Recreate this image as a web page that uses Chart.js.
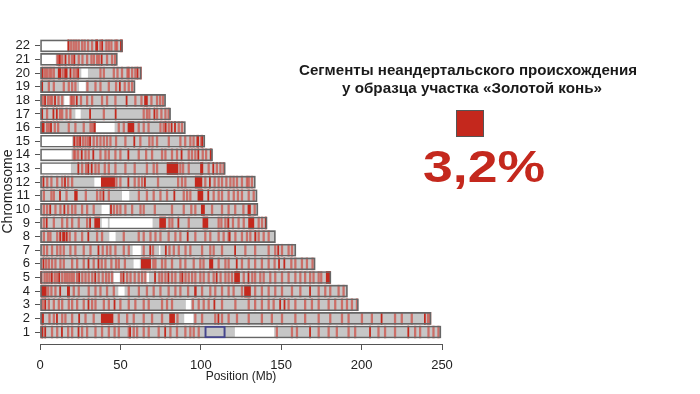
<!DOCTYPE html>
<html lang="ru">
<head>
    <meta charset="UTF-8">
    <title>Неандертальские сегменты</title>
    <script src="https://cdn.jsdelivr.net/npm/chart.js"></script>
    <style>
        body { margin: 0; background: #fff; }
        #wrap { width: 700px; height: 394px; }
    </style>
</head>
<body>
<div id="wrap"><canvas id="chromoChart" width="700" height="394"></canvas></div>

<script>
    // хромосомы и их длина (Mb)
    const chromosomes = [1, 2, 3, 4, 5, 6, 7, 8, 9, 10, 11, 12, 13, 14, 15, 16, 17, 18, 19, 20, 21, 22];
    const chromLengths = [249.3, 243.2, 198.0, 191.2, 180.9, 171.1, 159.1, 146.4, 141.2, 135.5, 135.0, 133.9,
                          115.2, 107.3, 102.5, 90.4, 81.2, 78.1, 59.1, 63.0, 48.1, 51.3];
    const xTicks = [0, 50, 100, 150, 200, 250];

    // белые участки (нет данных): [хромосома, начало, конец]
    const gaps = [
        [1, 121.4, 145.4], [2, 89.9, 95.1], [3, 90.9, 93.6], [4, 48.9, 52.4], [5, 46.0, 49.4], [5, 66.3, 67.6],
        [6, 58.4, 61.9], [7, 57.8, 62.5], [7, 74.2, 74.7], [8, 43.3, 46.8], [9, 38.6, 42.0], [9, 43.5, 69.8],
        [10, 38.5, 42.8], [11, 51.2, 55.3], [12, 34.0, 37.8], [13, 0, 19.0], [14, 0, 19.4], [15, 0, 19.8],
        [16, 35.0, 46.2], [17, 22.2, 25.1], [18, 15.3, 18.4], [19, 24.5, 28.2], [20, 25.9, 29.6],
        [21, 0, 9.6], [22, 0, 16.8]
    ];

    // яркие неандертальские сегменты: [хромосома, начало, конец]
    const darkSegments = [
        [1, 1.2, 1.9], [1, 2.9, 3.6], [1, 13.3, 14.0], [1, 23.6, 24.3], [1, 55.7, 56.4], [1, 77.5, 78.2], [1, 167.6, 168.3], [1, 204.9, 205.6], [1, 228.7, 229.4],
        [2, 1.5, 2.2], [2, 10.2, 10.9], [2, 24.0, 24.7], [2, 38.1, 45.4], [2, 80.6, 83.7], [2, 110.6, 111.3], [2, 212.1, 212.8], [2, 239.0, 239.7],
        [3, 2.9, 3.6], [3, 29.8, 30.5], [3, 46.0, 46.7], [3, 108.1, 108.8], [3, 149.0, 149.7], [3, 151.7, 152.4],
        [4, 0.8, 3.9], [4, 12.2, 12.9], [4, 17.0, 18.4], [4, 96.1, 97.2], [4, 127.2, 130.9], [4, 167.6, 168.3],
        [5, 0.4, 1.2], [5, 7.0, 7.7], [5, 11.6, 12.3], [5, 24.0, 24.7], [5, 34.0, 34.7], [5, 51.6, 52.3], [5, 71.2, 71.9], [5, 79.5, 80.2],
        [5, 88.2, 88.9], [5, 109.5, 110.2], [5, 121.0, 124.1], [5, 129.3, 130.0], [5, 178.0, 180.6],
        [6, 1.8, 2.5], [6, 29.8, 30.5], [6, 36.0, 36.7], [6, 63.0, 68.8], [6, 105.4, 107.5], [6, 122.0, 122.7], [6, 148.3, 149.0], [6, 151.6, 152.3],
        [7, 36.0, 36.7], [7, 68.2, 68.9], [7, 77.9, 78.6], [7, 121.0, 121.7], [7, 147.8, 148.5],
        [8, 12.2, 13.0], [8, 14.0, 15.5], [8, 16.2, 17.0], [8, 29.7, 30.4], [8, 91.5, 92.2], [8, 117.5, 118.3], [8, 133.5, 134.3],
        [9, 3.8, 4.5], [9, 30.8, 31.5], [9, 34.0, 37.1], [9, 74.4, 78.1], [9, 85.7, 86.4], [9, 101.3, 104.4], [9, 116.7, 117.5], [9, 129.7, 133.0], [9, 140.0, 140.8],
        [10, 6.0, 6.7], [10, 14.8, 15.5], [10, 43.8, 44.5], [10, 100.3, 102.3], [10, 129.3, 130.9],
        [11, 12.1, 12.8], [11, 21.5, 23.2], [11, 39.1, 39.8], [11, 83.2, 83.9], [11, 98.2, 101.3], [11, 104.3, 105.0],
        [12, 1.8, 2.5], [12, 15.2, 15.9], [12, 38.1, 46.4], [12, 54.6, 55.3], [12, 64.9, 65.6], [12, 96.5, 100.7], [12, 105.3, 106.0],
        [13, 23.5, 24.2], [13, 29.7, 30.4], [13, 31.8, 32.5], [13, 79.0, 85.8], [13, 99.8, 101.3], [13, 107.4, 108.1],
        [14, 25.6, 26.3], [14, 32.8, 33.5], [14, 54.6, 55.3], [14, 87.7, 88.4], [14, 98.1, 98.8], [14, 105.8, 106.6],
        [15, 20.9, 21.6], [15, 24.6, 25.3], [15, 30.8, 31.5], [15, 58.3, 59.0], [15, 97.5, 98.7], [15, 100.6, 101.3],
        [16, 1.2, 2.6], [16, 6.5, 7.2], [16, 33.5, 34.4], [16, 54.7, 58.4], [16, 77.8, 78.5], [16, 81.5, 82.2], [16, 83.6, 84.3],
        [17, 1.0, 1.7], [17, 8.0, 8.7], [17, 10.1, 10.8], [17, 30.8, 31.5], [17, 46.7, 47.4], [17, 70.8, 71.5],
        [18, 2.8, 3.5], [18, 9.0, 9.7], [18, 22.5, 23.2], [18, 53.5, 54.2], [18, 65.0, 66.8],
        [19, 1.0, 1.7], [19, 49.3, 50.0],
        [20, 1.2, 1.9], [20, 11.3, 12.9], [20, 15.3, 16.9], [20, 18.6, 19.3], [20, 23.4, 24.1], [20, 60.3, 61.0],
        [21, 12.0, 12.7], [21, 15.5, 16.2], [21, 21.0, 21.7], [21, 38.0, 38.7],
        [22, 17.3, 18.1], [22, 34.6, 35.9], [22, 38.4, 39.0], [22, 50.0, 51.2]
    ];

    // бледные короткие сегменты: [хромосома, начало]
    const lightSegments = [
        [1, 0.4], [1, 7.0], [1, 10.2], [1, 17.0], [1, 19.5], [1, 25.7], [1, 28.8], [1, 34.0], [1, 38.1], [1, 42.3], [1, 45.9], [1, 48.5], [1, 54.7], [1, 57.8],
        [1, 59.9], [1, 64.0], [1, 67.1], [1, 73.3], [1, 80.6], [1, 84.7], [1, 89.9], [1, 93.0], [1, 95.1], [1, 98.2], [1, 146.8], [1, 156.2], [1, 159.3],
        [1, 172.8], [1, 179.0], [1, 184.1], [1, 191.4], [1, 195.5], [1, 210.0], [1, 214.1], [1, 220.3], [1, 232.8], [1, 235.9], [1, 241.1], [1, 244.2], [1, 247.3],
        [2, 0.8], [2, 5.4], [2, 8.1], [2, 13.3], [2, 15.3], [2, 19.5], [2, 27.8], [2, 32.9], [2, 48.5], [2, 53.7], [2, 57.8], [2, 64.0], [2, 69.2], [2, 75.4],
        [2, 85.0], [2, 96.1], [2, 100.3], [2, 108.5], [2, 112.7], [2, 116.8], [2, 122.0], [2, 129.3], [2, 137.5], [2, 143.7], [2, 150.0], [2, 158.3], [2, 164.4],
        [2, 172.8], [2, 180.0], [2, 187.3], [2, 191.4], [2, 199.7], [2, 205.9], [2, 220.3], [2, 224.5], [2, 230.7], [2, 240.8], [2, 242.1],
        [3, 1.2], [3, 5.0], [3, 8.1], [3, 11.2], [3, 13.3], [3, 17.4], [3, 19.5], [3, 22.6], [3, 26.7], [3, 31.9], [3, 34.0], [3, 39.2], [3, 42.3], [3, 49.5],
        [3, 54.7], [3, 58.8], [3, 64.0], [3, 67.1], [3, 75.4], [3, 78.5], [3, 81.6], [3, 94.6], [3, 98.2], [3, 101.3], [3, 104.4], [3, 112.7], [3, 121.0],
        [3, 129.3], [3, 133.3], [3, 137.5], [3, 141.7], [3, 144.8], [3, 154.1], [3, 158.3], [3, 164.4], [3, 168.6], [3, 172.8], [3, 179.0], [3, 183.1],
        [3, 187.3], [3, 190.4], [3, 193.5], [3, 196.6],
        [4, 4.6], [4, 6.6], [4, 9.1], [4, 20.5], [4, 23.6], [4, 29.8], [4, 34.0], [4, 37.1], [4, 41.2], [4, 45.4], [4, 54.7], [4, 61.0], [4, 66.0], [4, 70.2],
        [4, 74.4], [4, 79.5], [4, 83.7], [4, 86.8], [4, 91.6], [4, 100.3], [4, 105.4], [4, 108.5], [4, 112.7], [4, 116.8], [4, 119.9], [4, 125.1], [4, 133.3],
        [4, 137.5], [4, 141.7], [4, 145.8], [4, 150.0], [4, 156.2], [4, 161.4], [4, 172.8], [4, 176.9], [4, 180.0], [4, 185.2], [4, 188.3],
        [5, 2.4], [5, 3.9], [5, 5.4], [5, 8.7], [5, 10.2], [5, 13.3], [5, 15.0], [5, 16.4], [5, 17.8], [5, 19.2], [5, 20.5], [5, 22.6], [5, 25.8], [5, 27.8],
        [5, 29.8], [5, 32.0], [5, 36.0], [5, 38.5], [5, 40.6], [5, 42.3], [5, 44.3], [5, 50.0], [5, 53.7], [5, 55.8], [5, 58.4], [5, 60.9], [5, 63.0], [5, 65.0],
        [5, 73.7], [5, 75.4], [5, 77.5], [5, 81.6], [5, 83.7], [5, 86.8], [5, 90.0], [5, 92.0], [5, 94.1], [5, 96.1], [5, 99.2], [5, 101.3], [5, 104.4],
        [5, 107.5], [5, 111.8], [5, 114.8], [5, 116.8], [5, 118.9], [5, 126.2], [5, 131.5], [5, 133.3], [5, 136.5], [5, 138.6], [5, 142.7], [5, 145.8],
        [5, 150.0], [5, 154.1], [5, 158.3], [5, 161.4], [5, 164.4], [5, 167.5], [5, 169.6], [5, 172.8], [5, 174.4],
        [6, 3.3], [6, 5.0], [6, 7.0], [6, 9.1], [6, 12.2], [6, 14.3], [6, 19.5], [6, 22.6], [6, 26.7], [6, 32.9], [6, 37.9], [6, 40.2], [6, 43.9], [6, 46.8],
        [6, 48.5], [6, 52.3], [6, 70.0], [6, 71.3], [6, 75.4], [6, 77.5], [6, 81.6], [6, 86.8], [6, 89.9], [6, 95.1], [6, 99.2], [6, 101.2], [6, 110.6],
        [6, 114.8], [6, 116.8], [6, 125.1], [6, 129.3], [6, 133.3], [6, 137.5], [6, 141.7], [6, 145.4], [6, 155.8], [6, 158.3], [6, 162.4], [6, 165.5], [6, 169.0],
        [7, 1.9], [7, 3.9], [7, 7.0], [7, 10.2], [7, 12.2], [7, 14.3], [7, 18.4], [7, 21.5], [7, 26.7], [7, 30.9], [7, 38.5], [7, 41.2], [7, 43.3], [7, 46.4],
        [7, 51.6], [7, 54.7], [7, 64.0], [7, 69.8], [7, 80.0], [7, 82.7], [7, 85.8], [7, 90.0], [7, 93.0], [7, 100.3], [7, 105.4], [7, 107.5], [7, 112.7],
        [7, 127.2], [7, 133.3], [7, 141.7], [7, 145.8], [7, 150.0], [7, 154.1], [7, 156.2],
        [8, 1.9], [8, 4.6], [8, 6.0], [8, 10.2], [8, 18.0], [8, 21.5], [8, 25.7], [8, 35.0], [8, 38.1], [8, 51.6], [8, 60.9], [8, 64.0], [8, 68.2], [8, 71.3],
        [8, 74.4], [8, 79.5], [8, 83.7], [8, 86.8], [8, 96.1], [8, 102.3], [8, 105.4], [8, 110.6], [8, 113.7], [8, 116.8], [8, 121.0], [8, 125.1], [8, 128.2],
        [8, 130.3], [8, 135.5], [8, 138.6], [8, 141.7],
        [9, 1.9], [9, 8.1], [9, 13.3], [9, 16.4], [9, 19.5], [9, 23.6], [9, 28.8], [9, 80.0], [9, 81.8], [9, 92.0], [9, 110.6], [9, 112.3], [9, 114.8],
        [9, 119.5], [9, 123.0], [9, 126.2], [9, 135.5], [9, 137.6],
        [10, 1.9], [10, 3.9], [10, 9.1], [10, 12.2], [10, 17.0], [10, 19.5], [10, 21.5], [10, 25.7], [10, 28.8], [10, 32.9], [10, 45.5], [10, 47.5], [10, 49.5],
        [10, 52.6], [10, 56.8], [10, 62.0], [10, 64.0], [10, 70.9], [10, 81.6], [10, 88.9], [10, 93.6], [10, 96.1], [10, 106.5], [10, 112.7], [10, 116.8],
        [10, 120.9], [10, 126.0], [10, 133.0],
        [11, 1.9], [11, 6.6], [11, 8.1], [11, 16.0], [11, 28.0], [11, 35.0], [11, 37.1], [11, 42.3], [11, 61.0], [11, 66.0], [11, 70.2], [11, 74.4], [11, 78.5],
        [11, 88.9], [11, 91.0], [11, 93.0], [11, 107.5], [11, 110.6], [11, 112.7], [11, 116.8], [11, 120.0], [11, 122.6], [11, 125.1], [11, 129.3], [11, 132.4],
        [12, 4.0], [12, 6.6], [12, 10.2], [12, 13.3], [12, 17.0], [12, 19.5], [12, 47.0], [12, 49.5], [12, 58.4], [12, 60.9], [12, 63.0], [12, 72.9], [12, 85.4],
        [12, 87.8], [12, 89.9], [12, 102.3], [12, 108.1], [12, 110.6], [12, 112.7], [12, 115.4], [12, 117.9], [12, 119.9], [12, 122.0], [12, 125.1], [12, 128.2],
        [12, 129.3], [12, 131.3],
        [13, 25.7], [13, 28.2], [13, 34.0], [13, 36.0], [13, 39.8], [13, 42.3], [13, 46.4], [13, 52.6], [13, 58.4], [13, 66.0], [13, 70.2], [13, 72.3], [13, 86.8],
        [13, 88.5], [13, 92.0], [13, 104.4], [13, 109.5], [13, 111.7], [13, 113.7],
        [14, 20.5], [14, 21.5], [14, 23.2], [14, 27.8], [14, 29.8], [14, 37.1], [14, 40.2], [14, 42.3], [14, 46.4], [14, 49.5], [14, 60.9], [14, 65.5], [14, 69.2],
        [14, 75.4], [14, 77.5], [14, 81.6], [14, 84.7], [14, 92.0], [14, 94.0], [14, 96.1], [14, 100.7], [14, 102.8],
        [15, 22.2], [15, 23.2], [15, 26.2], [15, 27.8], [15, 29.4], [15, 32.9], [15, 35.0], [15, 37.1], [15, 39.2], [15, 41.2], [15, 43.3], [15, 46.8], [15, 52.6],
        [15, 61.9], [15, 67.5], [15, 69.5], [15, 72.3], [15, 79.6], [15, 86.8], [15, 89.8], [15, 93.0], [15, 95.0], [15, 99.8],
        [16, 3.9], [16, 5.2], [16, 8.7], [16, 10.8], [16, 17.4], [16, 21.5], [16, 26.7], [16, 30.9], [16, 32.2], [16, 48.5], [16, 51.6], [16, 60.9], [16, 64.0],
        [16, 67.0], [16, 74.4], [16, 76.4], [16, 79.6], [16, 85.8], [16, 87.8],
        [17, 3.9], [17, 12.0], [17, 13.3], [17, 16.0], [17, 18.4], [17, 39.2], [17, 64.0], [17, 66.0], [17, 67.5], [17, 72.3], [17, 75.0], [17, 77.5], [17, 79.5],
        [18, 1.2], [18, 4.5], [18, 5.9], [18, 7.0], [18, 11.0], [18, 13.3], [18, 18.6], [18, 19.5], [18, 20.5], [18, 25.0], [18, 28.8], [18, 31.9], [18, 38.1],
        [18, 41.2], [18, 46.4], [18, 58.8], [18, 62.6], [18, 68.8], [18, 72.3], [18, 74.2], [18, 76.0],
        [19, 5.0], [19, 8.1], [19, 14.3], [19, 17.4], [19, 19.5], [19, 21.5], [19, 29.0], [19, 34.0], [19, 37.1], [19, 42.3], [19, 46.8], [19, 52.2], [19, 54.7], [19, 56.8],
        [20, 2.6], [20, 3.9], [20, 5.4], [20, 6.6], [20, 8.1], [20, 13.6], [20, 20.5], [20, 22.1], [20, 37.1], [20, 39.2], [20, 45.4], [20, 47.7], [20, 50.5],
        [20, 53.9], [20, 54.7], [20, 56.8], [20, 58.8], [20, 62.2],
        [21, 10.4], [21, 11.2], [21, 13.3], [21, 17.6], [21, 19.5], [21, 23.6], [21, 25.9], [21, 28.8], [21, 31.5], [21, 33.0], [21, 35.0], [21, 36.2], [21, 41.2],
        [21, 44.3], [21, 46.2],
        [22, 18.9], [22, 20.5], [22, 22.0], [22, 23.6], [22, 25.7], [22, 27.3], [22, 29.4], [22, 31.9], [22, 37.1], [22, 40.8], [22, 42.3], [22, 43.9], [22, 46.4], [22, 47.4]
    ];
    const thinSegmentMb = 1.0;

    // выделенная рамкой область на 1-й хромосоме
    const markedRegion = [1, 102.4, 115.3];

    const neanderShare = '3,2%';
    const titleLines = ['Сегменты неандертальского происхождения', 'у образца участка «Золотой конь»'];

    const RED = '#c4281d';

    Chart.defaults.font.family = "'Liberation Sans', Arial, sans-serif";
    Chart.defaults.color = '#222';

    function toBars(list) {
        return list.map(s => ({ x: [s[1], s[2]], y: s[0] }));
    }

    const chromBars = chromosomes.map((c, i) => ({ x: [0, chromLengths[i]], y: c }));
    const lightBars = lightSegments.map(s => ({ x: [s[1], s[1] + thinSegmentMb], y: s[0] }));

    // текст справа от графика
    const sidePanel = {
        id: 'sidePanel',
        afterDraw(chart) {
            const ctx = chart.ctx;
            ctx.save();
            ctx.textAlign = 'center';
            ctx.textBaseline = 'alphabetic';

            ctx.fillStyle = '#1a1a1a';
            ctx.font = "bold 14px 'Liberation Sans', Arial, sans-serif";
            fitText(ctx, titleLines[0], 468, 75, 338);
            fitText(ctx, titleLines[1], 472, 93, 260);

            ctx.fillStyle = RED;
            ctx.fillRect(456, 110, 28, 27);
            ctx.strokeStyle = '#555';
            ctx.lineWidth = 1;
            ctx.strokeRect(456.5, 110.5, 27, 26);

            ctx.fillStyle = RED;
            ctx.font = "bold 45px 'Liberation Sans', Arial, sans-serif";
            fitText(ctx, neanderShare, 484, 182, 122);
            ctx.restore();
        }
    };

    function fitText(ctx, text, cx, y, width) {
        const w = ctx.measureText(text).width;
        ctx.save();
        ctx.translate(cx, y);
        ctx.scale(width / w, 1);
        ctx.fillText(text, 0, 0);
        ctx.restore();
    }

    new Chart(document.getElementById('chromoChart'), {
        type: 'bar',
        data: {
            datasets: [
                {
                    label: 'рамка',
                    data: toBars([markedRegion]),
                    backgroundColor: 'rgba(0,0,0,0)',
                    borderColor: '#45458c',
                    borderWidth: 1.5,
                    borderSkipped: false,
                    order: -1
                },
                {
                    label: 'контур',
                    data: chromBars,
                    backgroundColor: 'rgba(0,0,0,0)',
                    borderColor: '#666',
                    borderWidth: 1,
                    borderSkipped: false,
                    order: 0
                },
                {
                    label: 'неандерт.',
                    data: toBars(darkSegments),
                    backgroundColor: RED,
                    order: 1
                },
                {
                    label: 'неандерт. (слабые)',
                    data: lightBars,
                    backgroundColor: 'rgba(208, 52, 40, 0.6)',
                    order: 2
                },
                {
                    label: 'пропуски',
                    data: toBars(gaps),
                    backgroundColor: '#ffffff',
                    order: 3
                },
                {
                    label: 'хромосома',
                    data: chromBars,
                    backgroundColor: '#c6c6c6',
                    order: 4
                }
            ]
        },
        options: {
            indexAxis: 'y',
            responsive: false,
            animation: false,
            datasets: {
                bar: { grouped: false, barThickness: 12 }
            },
            layout: { padding: { top: 39, right: 258, bottom: 0, left: 0 } },
            plugins: {
                legend: { display: false },
                tooltip: { enabled: false }
            },
            scales: {
                x: {
                    type: 'linear',
                    min: 0,
                    max: 250,
                    afterBuildTicks: axis => { axis.ticks = xTicks.map(v => ({ value: v })); },
                    afterFit: scale => { scale.height = 50; },
                    ticks: { font: { size: 13 }, color: '#222', padding: 8 },
                    grid: { drawOnChartArea: false, tickLength: 6, color: '#555' },
                    border: { color: '#555', width: 1 },
                    title: {
                        display: true,
                        text: 'Position (Mb)',
                        font: { size: 12 },
                        color: '#222',
                        padding: { top: 0, bottom: 10 }
                    }
                },
                y: {
                    type: 'linear',
                    offset: false,
                    min: 0.12,
                    max: 22.5,
                    afterBuildTicks: axis => { axis.ticks = chromosomes.map(v => ({ value: v })); },
                    afterFit: scale => { scale.width = 40; },
                    ticks: { font: { size: 13 }, color: '#222', padding: 5, autoSkip: false },
                    grid: { drawOnChartArea: false, offset: false, tickLength: 5, color: '#555' },
                    border: { display: false },
                    title: {
                        display: true,
                        text: 'Chromosome',
                        font: { size: 14 },
                        color: '#222',
                        padding: { top: 0, bottom: 0 }
                    }
                }
            }
        },
        plugins: [sidePanel]
    });
</script>
</body>
</html>
